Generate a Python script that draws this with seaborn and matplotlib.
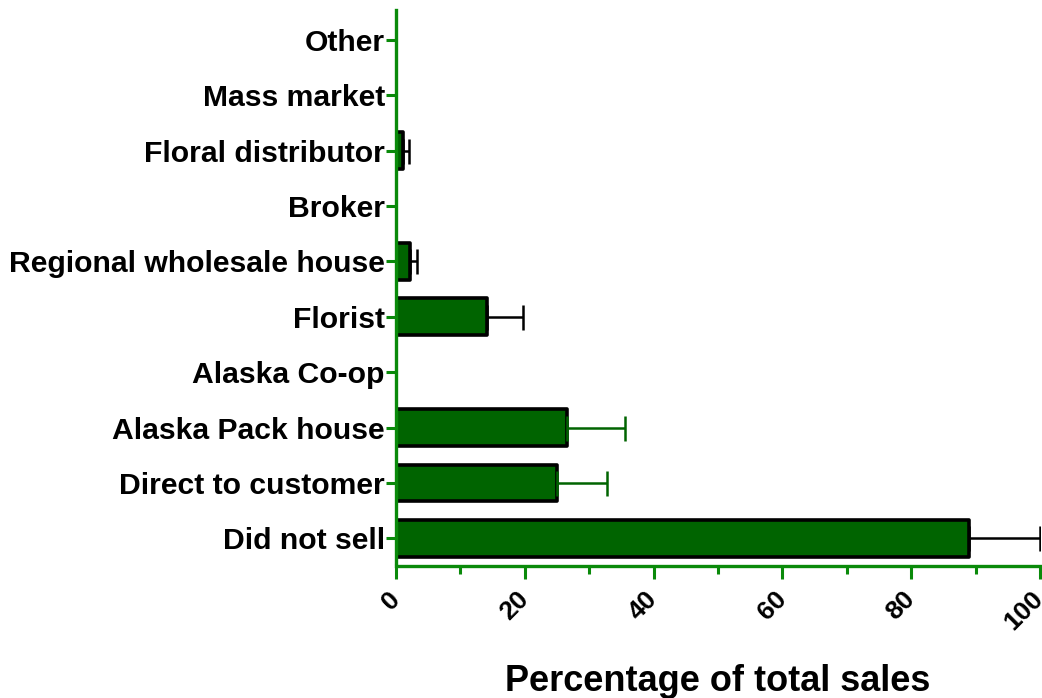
import numpy as np
import pandas as pd
import seaborn as sns
import matplotlib.pyplot as plt

# Data (top to bottom)
channels = ['Other', 'Mass market', 'Floral distributor', 'Broker',
            'Regional wholesale house', 'Florist', 'Alaska Co-op',
            'Alaska Pack house', 'Direct to customer', 'Did not sell']
pct_sales = [0, 0, 1.1, 0, 2.2, 14.1, 0, 26.5, 25.0, 89.0]
err_upper = [0, 0, 0.9, 0, 1.1, 5.6, 0, 9.0, 7.8, 11.0]
err_colors = ['black', 'black', 'black', 'black', 'black', 'black', 'black',
              '#006400', '#006400', 'black']
xticks = [0, 20, 40, 60, 80, 100]

sns.set_theme(style='ticks')
plt.rcParams['font.family'] = ['Liberation Sans', 'DejaVu Sans']
plt.rcParams['font.weight'] = 'bold'
plt.rcParams['text.color'] = 'black'
plt.rcParams['axes.labelcolor'] = 'black'
plt.rcParams['xtick.labelcolor'] = 'black'
plt.rcParams['ytick.labelcolor'] = 'black'

axis_green = '#0a8a0a'
bar_green = '#006400'

df = pd.DataFrame({'channel': channels, 'pct': pct_sales})

fig = plt.figure(figsize=(10.42, 6.98), dpi=100)
ax = fig.add_axes([0.380, 0.193, 0.618, 0.793])

sns.barplot(data=df, x='pct', y='channel', order=channels, color=bar_green,
            saturation=1, width=0.66, errorbar=None, edgecolor='black',
            linewidth=2.6, ax=ax)
for p in ax.patches:
    p.set_joinstyle('round')

# one-sided error bars
for i, (v, e, c) in enumerate(zip(pct_sales, err_upper, err_colors)):
    if e > 0:
        ax.errorbar(v, i, xerr=[[0], [e]], fmt='none', ecolor=c,
                    elinewidth=1.8, capsize=9, capthick=1.8, zorder=1)

ax.set_xlim(0, 100)
ax.set_ylim(9.45, -0.54)

# spines first: moving a spine resets the ticks
sns.despine(ax=ax)
for side in ['left', 'bottom']:
    ax.spines[side].set_color(axis_green)
    ax.spines[side].set_linewidth(2.4)
ax.spines['bottom'].set_position(('outward', 2))

ax.tick_params(axis='y', labelsize=21.7, length=7, width=2.2,
               color=axis_green, pad=1)
ax.tick_params(axis='x', which='major', length=9, width=2.2, color=axis_green,
               pad=12)
ax.tick_params(axis='x', which='minor', length=6, width=2.2, color=axis_green)

ax.set_xticks(xticks)
ax.set_xticks(np.arange(0, 101, 10), minor=True)
ax.set_xticklabels([str(t) for t in xticks], rotation=45, ha='right',
                   va='center', rotation_mode='anchor', fontsize=19,
                   fontweight='bold')
for lbl in ax.get_yticklabels():
    lbl.set_fontweight('bold')

ax.set_ylabel('')
ax.set_xlabel('Percentage of total sales', fontsize=26, fontweight='bold')
ax.xaxis.set_label_coords(0.5, -0.182)

fig.savefig('out.png', dpi=100)
